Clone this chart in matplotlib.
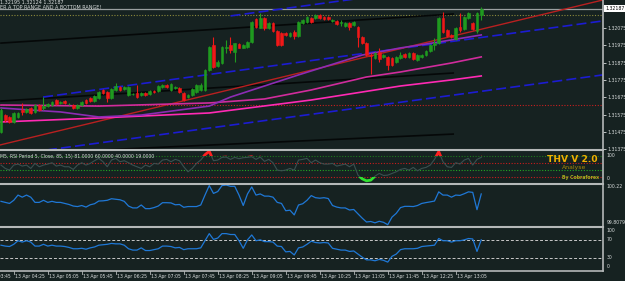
import matplotlib
matplotlib.use('Agg')
import matplotlib.pyplot as plt
import matplotlib.transforms as mtransforms
from matplotlib.patches import Rectangle
import numpy as np

plt.rcParams['font.family'] = ['DejaVu Sans']

# ---------------- data (GBPUSD M5, 13 Apr 04:10 - 13:35) ----------------
opens = [
    1.31474, 1.31572, 1.31561, 1.31532, 1.31561, 1.31601, 1.31590, 1.31613, 1.31590, 1.31630,
    1.31613, 1.31624, 1.31630, 1.31659, 1.31642, 1.31653, 1.31636, 1.31630, 1.31613, 1.31630,
    1.31659, 1.31671, 1.31653, 1.31671, 1.31717, 1.31705, 1.31671, 1.31717, 1.31734, 1.31723,
    1.31688, 1.31694, 1.31699, 1.31688, 1.31699, 1.31694, 1.31711, 1.31711, 1.31734, 1.31746,
    1.31717, 1.31728, 1.31728, 1.31699, 1.31676, 1.31688, 1.31705, 1.31717, 1.31717, 1.31832,
    1.31977, 1.31856, 1.31873, 1.31960, 1.31977, 1.31936, 1.31983, 1.31960, 1.31965, 1.31994,
    1.32127, 1.32075, 1.32133, 1.32075, 1.32104, 1.32058, 1.32046, 1.32046, 1.32029, 1.32052,
    1.32029, 1.32104, 1.32110, 1.32133, 1.32133, 1.32150, 1.32139, 1.32139, 1.32116, 1.32116,
    1.32104, 1.32087, 1.32104, 1.32093, 1.32081, 1.32023, 1.31988, 1.31919, 1.31902, 1.31936,
    1.31908, 1.31908, 1.31902, 1.31879, 1.31902, 1.31925, 1.31908, 1.31931, 1.31890, 1.31908,
    1.31919, 1.31942, 1.31977, 1.31988, 1.32133, 1.32064, 1.32035, 1.32012, 1.32081, 1.32069,
    1.32133, 1.32104, 1.32058, 1.32150,
]
closes = [
    1.31601, 1.31543, 1.31532, 1.31584, 1.31584, 1.31590, 1.31607, 1.31584, 1.31630, 1.31601,
    1.31624, 1.31636, 1.31647, 1.31636, 1.31647, 1.31642, 1.31638, 1.31613, 1.31630, 1.31647,
    1.31642, 1.31653, 1.31682, 1.31705, 1.31699, 1.31671, 1.31723, 1.31740, 1.31717, 1.31734,
    1.31734, 1.31694, 1.31676, 1.31699, 1.31688, 1.31711, 1.31705, 1.31740, 1.31746, 1.31734,
    1.31752, 1.31734, 1.31705, 1.31659, 1.31688, 1.31723, 1.31746, 1.31746, 1.31832, 1.31965,
    1.31850, 1.31879, 1.31965, 1.31965, 1.31948, 1.31988, 1.31960, 1.31977, 1.31994, 1.32110,
    1.32081, 1.32133, 1.32075, 1.32104, 1.32058, 1.31977, 1.31977, 1.32035, 1.32046, 1.32029,
    1.32110, 1.32121, 1.32139, 1.32110, 1.32150, 1.32133, 1.32127, 1.32127, 1.32121, 1.32098,
    1.32110, 1.32104, 1.32081, 1.32110, 1.32023, 1.31988, 1.31919, 1.31913, 1.31931, 1.31896,
    1.31919, 1.31861, 1.31861, 1.31908, 1.31919, 1.31908, 1.31931, 1.31896, 1.31919, 1.31919,
    1.31942, 1.31977, 1.31988, 1.32133, 1.32052, 1.32029, 1.32023, 1.32075, 1.32064, 1.32139,
    1.32162, 1.32069, 1.32162, 1.32187,
]
highs = [
    1.31613, 1.31578, 1.31567, 1.31590, 1.31590, 1.31642, 1.31613, 1.31619, 1.31636, 1.31636,
    1.31676, 1.31642, 1.31653, 1.31665, 1.31653, 1.31659, 1.31642, 1.31636, 1.31636, 1.31653,
    1.31665, 1.31676, 1.31688, 1.31711, 1.31723, 1.31711, 1.31728, 1.31757, 1.31740, 1.31740,
    1.31740, 1.31699, 1.31746, 1.31705, 1.31705, 1.31717, 1.31717, 1.31746, 1.31752, 1.31752,
    1.31757, 1.31740, 1.31734, 1.31705, 1.31694, 1.31728, 1.31752, 1.31757, 1.31838, 1.31971,
    1.32023, 1.31890, 1.31971, 1.32006, 1.32023, 1.31988, 1.31988, 1.31983, 1.32000, 1.32116,
    1.32133, 1.32162, 1.32139, 1.32110, 1.32110, 1.32064, 1.32052, 1.32052, 1.32052, 1.32064,
    1.32116, 1.32127, 1.32145, 1.32139, 1.32156, 1.32156, 1.32145, 1.32145, 1.32127, 1.32121,
    1.32121, 1.32110, 1.32110, 1.32116, 1.32087, 1.32029, 1.31994, 1.31931, 1.31936, 1.31960,
    1.31925, 1.31913, 1.31908, 1.31913, 1.31936, 1.31931, 1.31936, 1.31936, 1.31925, 1.31925,
    1.31948, 1.31983, 1.32017, 1.32139, 1.32168, 1.32069, 1.32040, 1.32081, 1.32162, 1.32145,
    1.32168, 1.32110, 1.32168, 1.32195,
]
lows = [
    1.31468, 1.31532, 1.31526, 1.31526, 1.31555, 1.31572, 1.31584, 1.31578, 1.31584, 1.31595,
    1.31601, 1.31619, 1.31624, 1.31630, 1.31636, 1.31636, 1.31630, 1.31607, 1.31607, 1.31624,
    1.31636, 1.31647, 1.31647, 1.31665, 1.31694, 1.31647, 1.31665, 1.31711, 1.31711, 1.31717,
    1.31682, 1.31688, 1.31671, 1.31682, 1.31682, 1.31688, 1.31699, 1.31705, 1.31728, 1.31728,
    1.31711, 1.31723, 1.31699, 1.31653, 1.31671, 1.31682, 1.31699, 1.31711, 1.31711, 1.31827,
    1.31844, 1.31850, 1.31867, 1.31931, 1.31931, 1.31879, 1.31960, 1.31960, 1.31960, 1.31988,
    1.32075, 1.32075, 1.32064, 1.32069, 1.32052, 1.31971, 1.31971, 1.32029, 1.32023, 1.32012,
    1.32023, 1.32098, 1.32104, 1.32104, 1.32127, 1.32127, 1.32121, 1.32121, 1.32110, 1.32093,
    1.32087, 1.32081, 1.32064, 1.32087, 1.31965, 1.31983, 1.31913, 1.31809, 1.31896, 1.31879,
    1.31902, 1.31832, 1.31856, 1.31873, 1.31896, 1.31902, 1.31902, 1.31890, 1.31885, 1.31902,
    1.31913, 1.31936, 1.31948, 1.31983, 1.32046, 1.32023, 1.32017, 1.32006, 1.32052, 1.32064,
    1.32127, 1.32064, 1.32046, 1.32124,
]

# RSI(5) window
rsi5 = [
    55, 45, 40, 55, 58, 52, 55, 45, 60, 50,
    55, 58, 62, 52, 55, 50, 50, 42, 55, 62,
    55, 60, 68, 75, 65, 50, 70, 75, 65, 68,
    62, 55, 50, 45, 55, 50, 60, 58, 70, 72,
    65, 72, 68, 50, 35, 45, 60, 70, 86, 96,
    68, 70, 78, 79, 72, 78, 74, 77, 78, 80,
    72, 79, 66, 72, 62, 40, 38, 40, 45, 40,
    70, 72, 75, 62, 70, 62, 58, 58, 60, 52,
    55, 58, 50, 58, 25, 14, 8, 10, 22, 30,
    24, 25, 30, 35, 42, 45, 40, 48, 38, 45,
    48, 55, 72, 95, 65, 50, 48, 62, 58, 70,
    75, 55, 72, 78,
]
rsi_levels = [81, 60, 40, 19]

# third window (momentum, 99.8079 - 100.22)
momentum = [
    100.049, 100.039, 100.029, 100.059, 100.109, 100.089, 100.109, 100.089, 100.039, 100.039,
    100.059, 100.039, 100.049, 100.039, 100.039, 100.029, 100.019, 100.004, 99.999, 100.009,
    99.994, 100.016, 100.026, 100.052, 100.054, 100.059, 100.074, 100.069, 100.064, 100.049,
    100.004, 99.986, 99.986, 100.014, 99.979, 99.979, 99.989, 100.004, 100.036, 100.036,
    100.034, 100.016, 100.019, 99.992, 99.999, 99.999, 99.999, 100.014, 100.109, 100.200,
    100.125, 100.143, 100.200, 100.205, 100.193, 100.193, 100.109, 100.009, 100.120, 100.187,
    100.109, 100.120, 100.099, 100.099, 100.089, 100.039, 100.029, 99.959, 99.964, 99.919,
    100.014, 100.026, 100.059, 100.104, 100.084, 100.079, 100.084, 100.076, 100.009, 99.994,
    99.986, 99.986, 99.966, 99.971, 99.929, 99.888, 99.851, 99.856, 99.843, 99.858,
    99.848, 99.825, 99.898, 99.934, 99.989, 100.001, 100.001, 99.999, 100.009, 100.029,
    100.037, 100.044, 100.052, 100.140, 100.109, 100.109, 100.089, 100.109, 100.106, 100.122,
    100.140, 100.135, 99.969, 100.120,
]

# fourth window (0 - 100, levels 70 / 30)
osc = [
    58, 56, 55, 60, 68, 65, 68, 65, 56, 56,
    60, 56, 58, 56, 56, 55, 53, 50, 50, 51,
    49, 52, 54, 58, 59, 60, 62, 61, 61, 58,
    50, 47, 47, 52, 46, 46, 48, 50, 56, 56,
    55, 52, 53, 48, 50, 50, 50, 52, 68, 84,
    71, 74, 84, 84, 82, 82, 68, 51, 70, 81,
    68, 70, 66, 66, 65, 56, 55, 43, 44, 36,
    52, 54, 60, 67, 64, 63, 64, 63, 51, 49,
    47, 47, 44, 45, 38, 31, 25, 25, 23, 26,
    24, 20, 33, 38, 48, 50, 50, 50, 51, 55,
    56, 57, 58, 73, 68, 68, 65, 68, 68, 70,
    73, 72, 44, 70,
]
osc_levels = [70, 30]

# moving averages (bar index, price)
ma_fast_x = [0, 7, 14, 23, 33, 42, 49, 54, 70, 85, 94, 103, 113]
ma_fast_y = [1.31613, 1.31601, 1.31590, 1.31561, 1.31572, 1.31601, 1.31624, 1.31676,
             1.31804, 1.31919, 1.31960, 1.31994, 1.32035]
ma_mid_x = [0, 23, 49, 62, 73, 86, 94, 106, 113]
ma_mid_y = [1.31630, 1.31624, 1.31642, 1.31665, 1.31717, 1.31792, 1.31821, 1.31873, 1.31908]
ma_slow_x = [0, 23, 49, 73, 94, 106, 113]
ma_slow_y = [1.31532, 1.31555, 1.31584, 1.31659, 1.31740, 1.31775, 1.31798]

# trend / channel lines (bar index, price)
black_x = [[0, 106.4], [0, 106.4], [23.3, 106.4]]
black_y = [[1.31988, 1.32156], [1.31653, 1.31815], [1.31370, 1.31462]]
blue_x = [[54, 141.6], [9.9, 141.6], [10.8, 141.6]]
blue_y = [[1.32145, 1.32438], [1.31676, 1.32116], [1.31370, 1.31804]]
red_x = [-0.24, 141.6]
red_y = [1.31399, 1.32237]

bid = 1.32187
top_level = 1.32150
low_level = 1.31630
price_ticks = [1.32075, 1.31975, 1.31875, 1.31775, 1.31675, 1.31575, 1.31475, 1.31375]

time_idx = [-5, 3, 11, 19, 27, 35, 43, 51, 59, 67, 75, 83, 91, 99, 107]
time_labels = ['13 Apr 03:45', '13 Apr 04:25', '13 Apr 05:05', '13 Apr 05:45', '13 Apr 06:25',
               '13 Apr 07:05', '13 Apr 07:45', '13 Apr 08:25', '13 Apr 09:05', '13 Apr 09:45',
               '13 Apr 10:25', '13 Apr 11:05', '13 Apr 11:45', '13 Apr 12:25', '13 Apr 13:05']

# ---------------- style ----------------
BG = '#162221'
FRAME = '#b4b8b8'
TXT = '#d8dcdc'
GREEN = '#1f9a1f'
RED = '#f01818'
FS = 3.3

W, H = 625, 281
fig = plt.figure(figsize=(W / 100, H / 100), dpi=100)
fig.patch.set_facecolor(BG)


def panel(top, bottom):
    ax = fig.add_axes([0, 1 - bottom / H, 603 / W, (bottom - top) / H])
    ax.set_facecolor(BG)
    ax.set_xlim(-0.235, 141.65)
    for s in ('left', 'bottom', 'top'):
        ax.spines[s].set_visible(False)
    ax.spines['right'].set_color(FRAME)
    ax.spines['right'].set_linewidth(1.2)
    ax.set_xticks([])
    ax.set_yticks([])
    ax.yaxis.tick_right()
    ax.tick_params(axis='y', colors=TXT, labelsize=FS, length=2, width=0.6, pad=1)
    return ax


def separator(ax):
    ax.spines['top'].set_visible(True)
    ax.spines['top'].set_color(FRAME)
    ax.spines['top'].set_linewidth(1.5)


def side_label(ax, ypos, text):
    ax.text(1.006, ypos, text, transform=ax.transAxes, color=TXT, fontsize=FS,
            va='center', ha='left', clip_on=False)


# ---------------- main window ----------------
ax = panel(0, 150)
ax.set_ylim(1.31370, 1.32237)
idx = np.arange(len(closes))
o, h, l, c = map(np.array, (opens, highs, lows, closes))
cols = np.where(c >= o, GREEN, RED)

ax.axhline(bid, color='#9aa0a0', lw=0.9, zorder=1)
ax.axhline(top_level, color='#8c8a3c', lw=0.8, ls=(0, (1, 1.5)), zorder=1)
ax.axhline(low_level, color='#c82020', lw=0.8, ls=(0, (1, 1.5)), zorder=1)

for xs, ys in zip(black_x, black_y):
    ax.plot(xs, ys, color='#050808', lw=1.2, zorder=2)
for xs, ys in zip(blue_x, blue_y):
    ax.plot(xs, ys, color='#1c1cd2', lw=1.2, ls=(0, (6, 2.5)), zorder=2)
ax.plot(red_x, red_y, color='#b82020', lw=1.0, zorder=2)

ax.plot(ma_slow_x, ma_slow_y, color='#ff2ab4', lw=1.2, zorder=2)
ax.plot(ma_mid_x, ma_mid_y, color='#d02c9c', lw=1.2, zorder=2)
ax.plot(ma_fast_x, ma_fast_y, color='#8c2cb4', lw=1.2, zorder=2)

ax.vlines(idx, l, h, colors=cols, lw=0.8, zorder=3)
ax.bar(idx, c - o, bottom=o, width=0.7, color=cols, edgecolor=cols, linewidth=0.4, zorder=4)

ax.set_yticks(price_ticks)
ax.set_yticklabels([f'{p:.5f}' for p in price_ticks])
tr = mtransforms.blended_transform_factory(ax.transAxes, ax.transData)
ax.text(1.004, bid, f'{bid:.5f}', transform=tr, color='black', fontsize=FS, va='center',
        ha='left', clip_on=False,
        bbox=dict(facecolor='white', edgecolor='none', pad=0.7))

fig.text(0.5 / W, 1 - 2.4 / H, '1.32195 1.32124 1.32187', color=TXT, fontsize=FS + 0.2,
         va='center', ha='left')
fig.text(0.5 / W, 1 - 7.6 / H, 'ER A TOP RANGE AND A BOTTOM RANGE!', color=TXT, fontsize=FS + 0.2,
         va='center', ha='left')

# ---------------- RSI window ----------------
ax2 = panel(150, 183.5)
separator(ax2)
ax2.set_ylim(0, 100)
lvl_cols = ['#1c7a1c', '#c81c1c', '#22a822', '#c81c1c']
for v, col in zip(rsi_levels, lvl_cols):
    ax2.axhline(v, color=col, lw=0.8, ls=(0, (1, 1.5)))
ax2.plot(idx, rsi5, color='#3a5050', lw=0.8)
hot, = ax2.plot(idx, rsi5, color='#ff2020', lw=2.0)
hot.set_clip_path(Rectangle((-10, rsi_levels[0]), 200, 50, transform=ax2.transData))
cold, = ax2.plot(idx, rsi5, color='#30e030', lw=2.0)
cold.set_clip_path(Rectangle((-10, -50), 200, 50 + rsi_levels[-1], transform=ax2.transData))
ax2.text(0.0, 0.8, 'M5, RSI Period 5, Close, 85, 15) 81.0000 60.0000 40.0000 19.0000',
         transform=ax2.transAxes, color=TXT, fontsize=FS, va='center', ha='left')
side_label(ax2, 0.85, '100')
side_label(ax2, 0.16, '0')

fig.text(547 / W, 1 - 160 / H, 'THV V 2.0', color='#f0b000', fontsize=6.6,
         fontweight='bold', va='center', ha='left')
fig.text(562 / W, 1 - 168 / H, 'Analyse', color='#a88a08', fontsize=4.4,
         va='center', ha='left')
fig.text(562 / W, 1 - 177.5 / H, 'By Cobraforex', color='#a8b020', fontsize=3.3,
         fontweight='bold', va='center', ha='left')

# ---------------- momentum window ----------------
ax3 = panel(183.5, 226.5)
separator(ax3)
ax3.set_ylim(99.8079, 100.22)
ax3.plot(idx, momentum, color='#1f78d6', lw=0.9)
side_label(ax3, 0.94, '100.22')
side_label(ax3, 0.10, '99.8079')

# ---------------- oscillator window ----------------
ax4 = panel(226.5, 271)
separator(ax4)
ax4.spines['bottom'].set_visible(True)
ax4.spines['bottom'].set_color(FRAME)
ax4.spines['bottom'].set_linewidth(1.2)
ax4.set_ylim(0, 100)
for v in osc_levels:
    ax4.axhline(v, color='#c8c8c8', lw=0.7, ls=(0, (3, 2)))
ax4.plot(idx, osc, color='#1f78d6', lw=0.9)
side_label(ax4, 0.9, '100')
for v in osc_levels:
    side_label(ax4, v / 100, str(v))
side_label(ax4, 0.11, '0')

tb = mtransforms.blended_transform_factory(ax4.transData, ax4.transAxes)
for t, lab in zip(time_idx, time_labels):
    ax4.plot([t, t], [0, -0.07], transform=tb, color=FRAME, lw=0.6, clip_on=False)
    ax4.text(t + 0.3, -0.115, lab, transform=tb, color=TXT, fontsize=FS,
             va='center', ha='left', clip_on=False)

fig.savefig('out.png', dpi=100, facecolor=BG)
